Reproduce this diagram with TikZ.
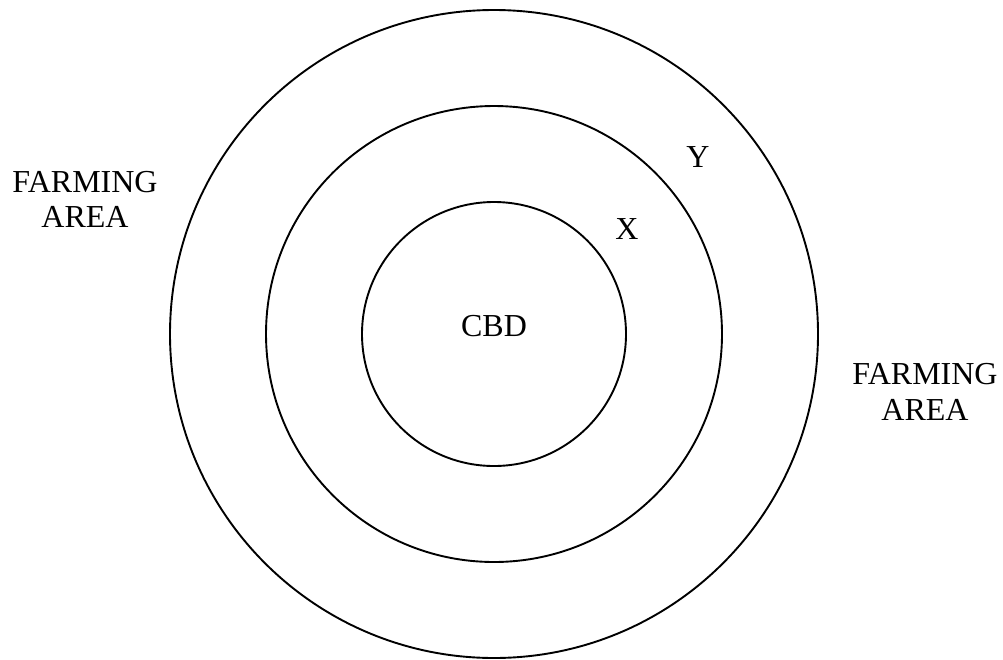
\documentclass[tikz,border=0pt]{standalone}
\usepackage{fontspec}
\setmainfont{Liberation Serif}
\begin{document}
\begin{tikzpicture}[x=1pt,y=-1pt,
  ring/.style={draw=black,line width=1.9pt},
  lbl/.style={font=\fontsize{32}{37}\selectfont,inner sep=0pt,anchor=base}]
\useasboundingbox (0,0) rectangle (1003,659);
\coordinate (c) at (494,334);
\draw[ring] (c) circle[radius=324];
\draw[ring] (c) circle[radius=228];
\draw[ring] (c) circle[radius=132];
\node[lbl] (cbd) at (494,336) {CBD};
\node[lbl] (x) at (627,239) {X};
\node[lbl] (y) at (698,167) {Y};
\node[lbl] (fl1) at (85,192) {FARMING};
\node[lbl] (fl2) at (85,227) {AREA};
\node[lbl] (fr1) at (925,384) {FARMING};
\node[lbl] (fr2) at (925,420) {AREA};
\end{tikzpicture}
\end{document}
